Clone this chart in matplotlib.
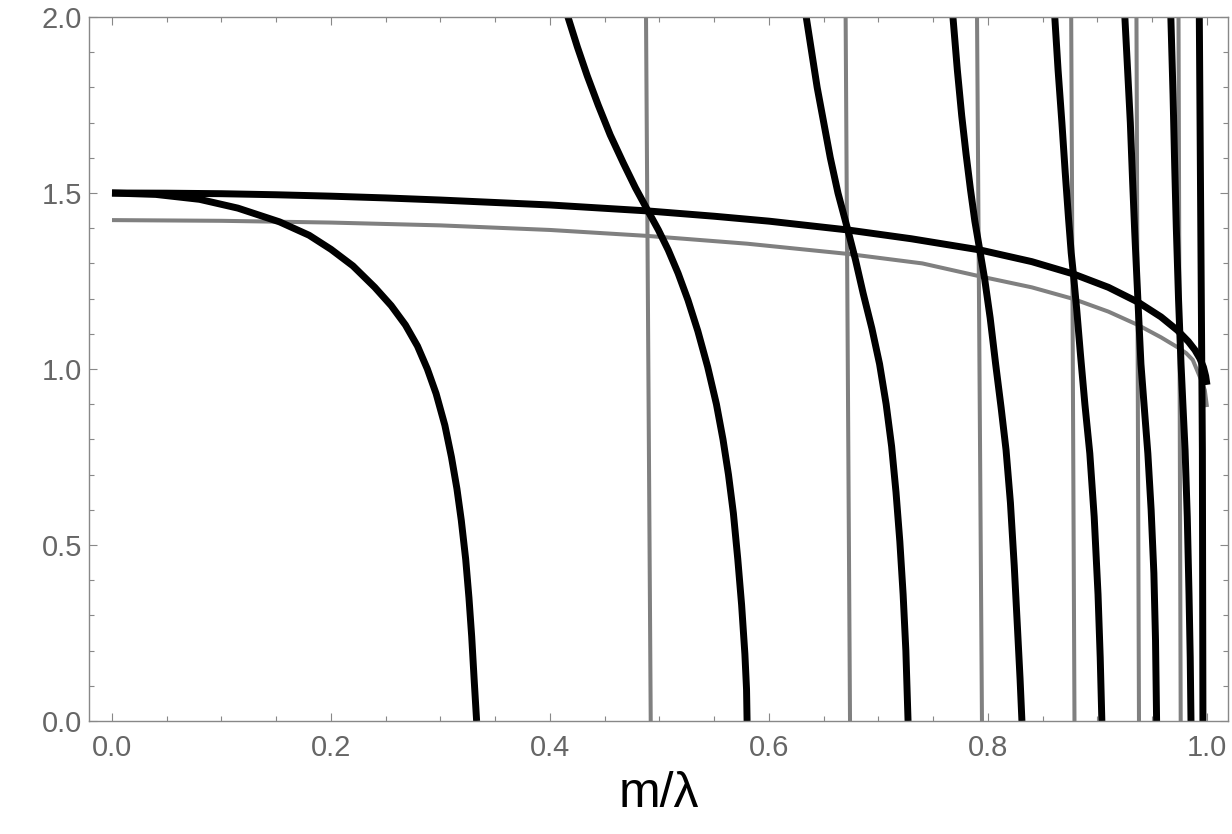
import numpy as np
import matplotlib
matplotlib.use("Agg")
import matplotlib.pyplot as plt
from matplotlib.ticker import MultipleLocator

plt.rcParams['font.family'] = ['Liberation Sans', 'DejaVu Sans']

# upper curves
upper_black_x = [0.0, 0.05, 0.1, 0.15, 0.2, 0.25, 0.3, 0.35, 0.4, 0.4895, 0.55, 0.6, 0.672, 0.73, 0.793,
                 0.84, 0.878, 0.91, 0.937, 0.958, 0.973, 0.983, 0.989, 0.9935, 0.9968, 0.9988, 1.0]
upper_black_y = [1.500, 1.4995, 1.498, 1.495, 1.491, 1.486, 1.480, 1.473, 1.466, 1.449, 1.434, 1.420, 1.395, 1.370, 1.338,
                 1.305, 1.270, 1.232, 1.190, 1.148, 1.110, 1.078, 1.054, 1.030, 1.005, 0.980, 0.955]

upper_gray_x = [0.0, 0.1, 0.2, 0.3, 0.4, 0.4895, 0.58, 0.672, 0.74, 0.793, 0.84, 0.878, 0.91, 0.937,
                0.958, 0.973, 0.981, 0.987, 0.9936, 0.998, 1.0]
upper_gray_y = [1.423, 1.421, 1.416, 1.408, 1.395, 1.378, 1.356, 1.327, 1.300, 1.263, 1.232, 1.199, 1.163, 1.125,
                1.090, 1.062, 1.045, 1.026, 0.977, 0.940, 0.892]

# falling black branches
branch1_x = [0.0, 0.04, 0.08, 0.115, 0.153, 0.18, 0.2, 0.22, 0.24, 0.255, 0.268, 0.279, 0.288, 0.296,
             0.304, 0.31, 0.315, 0.319, 0.323, 0.326, 0.3285, 0.3307, 0.333]
branch1_y = [1.500, 1.496, 1.482, 1.457, 1.418, 1.380, 1.340, 1.293, 1.232, 1.180, 1.125, 1.065, 1.000, 0.930,
             0.840, 0.750, 0.660, 0.570, 0.460, 0.350, 0.240, 0.120, 0.0]

branch2_x = [0.4164, 0.425, 0.434, 0.444, 0.455, 0.467, 0.478, 0.4895, 0.499, 0.508, 0.517, 0.526, 0.535,
             0.544, 0.552, 0.558, 0.563, 0.5675, 0.5715, 0.575, 0.578, 0.5795, 0.580]
branch2_y = [2.0, 1.915, 1.833, 1.750, 1.665, 1.585, 1.515, 1.449, 1.395, 1.338, 1.272, 1.196, 1.108,
             1.006, 0.900, 0.800, 0.700, 0.590, 0.460, 0.330, 0.190, 0.090, 0.0]

branch3_x = [0.634, 0.639, 0.644, 0.65, 0.656, 0.663, 0.672, 0.679, 0.686, 0.694, 0.701, 0.707, 0.712,
             0.716, 0.7195, 0.7225, 0.725, 0.727]
branch3_y = [2.0, 1.90, 1.80, 1.70, 1.60, 1.50, 1.395, 1.310, 1.215, 1.115, 1.014, 0.900, 0.780,
             0.650, 0.510, 0.360, 0.200, 0.0]

branch4_x = [0.768, 0.772, 0.776, 0.78, 0.784, 0.788, 0.7925, 0.797, 0.802, 0.807, 0.812, 0.8165, 0.8205,
             0.824, 0.827, 0.8293, 0.831]
branch4_y = [2.0, 1.85, 1.72, 1.61, 1.51, 1.42, 1.338, 1.255, 1.145, 1.014, 0.890, 0.770, 0.620,
             0.440, 0.260, 0.120, 0.0]

branch5_x = [0.861, 0.864, 0.8675, 0.8705, 0.8735, 0.876, 0.878, 0.881, 0.8845, 0.8885, 0.893, 0.897,
             0.9005, 0.9025, 0.904]
branch5_y = [2.0, 1.85, 1.70, 1.56, 1.43, 1.33, 1.27, 1.17, 1.04, 0.90, 0.76, 0.58,
             0.36, 0.18, 0.0]

branch6_x = [0.925, 0.9275, 0.93, 0.932, 0.934, 0.937, 0.9397, 0.943, 0.946, 0.949, 0.9515, 0.953, 0.954]
branch6_y = [2.0, 1.85, 1.70, 1.54, 1.39, 1.19, 1.014, 0.88, 0.76, 0.60, 0.42, 0.23, 0.0]

branch7_x = [0.967, 0.969, 0.9705, 0.972, 0.974, 0.9763, 0.978, 0.98, 0.982, 0.9836, 0.9847, 0.9854]
branch7_y = [2.0, 1.78, 1.58, 1.40, 1.20, 1.014, 0.90, 0.77, 0.58, 0.36, 0.18, 0.0]

branch8_x = [0.993, 0.9945, 0.9958, 0.9963]
branch8_y = [2.0, 1.338, 0.77, 0.0]

# gray near-vertical lines: x at the top (y=2) and at the bottom (y=0)
gray_top_x = [0.4877, 0.670, 0.790, 0.876, 0.9356, 0.974]
gray_bottom_x = [0.492, 0.674, 0.7945, 0.879, 0.9379, 0.976]

branches = [
    (branch1_x, branch1_y), (branch2_x, branch2_y), (branch3_x, branch3_y),
    (branch4_x, branch4_y), (branch5_x, branch5_y), (branch6_x, branch6_y),
    (branch7_x, branch7_y), (branch8_x, branch8_y),
]

fig = plt.figure(figsize=(12.32, 8.34), dpi=100)
ax = fig.add_axes([89 / 1232, 113 / 834, 1139 / 1232, 704 / 834])

gray = '#808080'
for xt, xb in zip(gray_top_x, gray_bottom_x):
    ax.plot([xb, xt], [0.0, 2.0], color=gray, lw=2.9, solid_capstyle='butt')
ax.plot(upper_gray_x, upper_gray_y, color=gray, lw=2.9, solid_capstyle='butt', solid_joinstyle='round')

for bx, by in branches:
    ax.plot(bx, by, color='black', lw=5.0, solid_capstyle='butt', solid_joinstyle='round')
ax.plot(upper_black_x, upper_black_y, color='black', lw=5.0, solid_capstyle='butt', solid_joinstyle='round')

# axes ranges
ax.set_xlim(-0.021, 1.0192)
ax.set_ylim(0, 2)

frame = '#888888'
for s in ax.spines.values():
    s.set_color(frame)
    s.set_linewidth(1.0)

ax.xaxis.set_major_locator(MultipleLocator(0.2))
ax.xaxis.set_minor_locator(MultipleLocator(0.05))
ax.yaxis.set_major_locator(MultipleLocator(0.5))
ax.yaxis.set_minor_locator(MultipleLocator(0.1))
ax.xaxis.set_major_formatter(plt.FormatStrFormatter('%.1f'))
ax.yaxis.set_major_formatter(plt.FormatStrFormatter('%.1f'))

ax.tick_params(which='both', direction='in', top=True, right=True, color=frame, width=0.8)
ax.tick_params(which='major', length=6)
ax.tick_params(which='minor', length=3.5)
ax.tick_params(axis='both', which='major', labelsize=21, labelcolor='#666666')
ax.tick_params(axis='x', pad=9)
ax.tick_params(axis='y', pad=5)

ax.set_xlabel('m/λ', fontsize=36, color='black', labelpad=7)

fig.savefig('out.png', dpi=100)
